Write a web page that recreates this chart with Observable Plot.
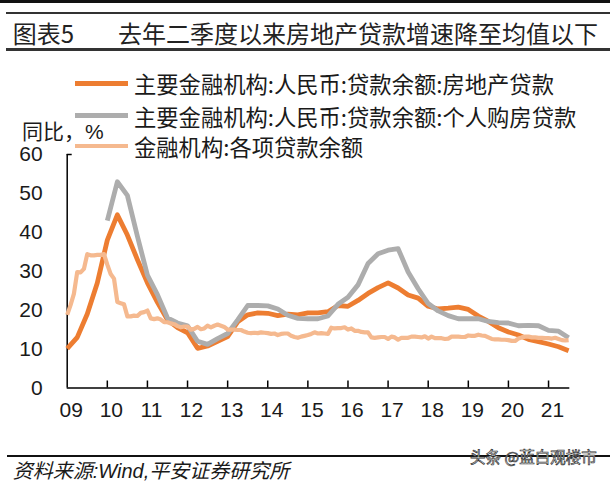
<!DOCTYPE html>
<html><head><meta charset="utf-8">
<script src="https://cdn.jsdelivr.net/npm/d3@7"></script>
<script src="https://cdn.jsdelivr.net/npm/@observablehq/plot@0.6"></script>
<style>
body{margin:0;background:#fff;}
#wrap{position:relative;width:610px;height:482px;overflow:hidden;font-family:"Liberation Sans","Noto Sans CJK SC",sans-serif;color:#1a1a1a;background:#fff}
.abs{position:absolute;white-space:nowrap}
#chart{position:absolute;left:0;top:0}
</style></head><body><div id="wrap"><div id="chart"></div></div>
<script>
// ---- texts ----
const figLabel = "图表5";
const title = "去年二季度以来房地产贷款增速降至均值以下";
const yUnit = "同比，%";
const source = "资料来源:Wind,平安证券研究所";
const watermark = "头条 @蓝白观楼市";
const seriesNames = [
  "主要金融机构:人民币:贷款余额:房地产贷款",
  "主要金融机构:人民币:贷款余额:个人购房贷款",
  "金融机构:各项贷款余额"
];
const seriesColors = ["#ED7D31", "#ADADAD", "#F5B98F"];

// ---- ticks ----
const yTicks = [0, 10, 20, 30, 40, 50, 60];
const xYears = [2009, 2010, 2011, 2012, 2013, 2014, 2015, 2016, 2017, 2018, 2019, 2020, 2021];
const xLabels = ["09","10","11","12","13","14","15","16","17","18","19","20","21"];

// ---- data (quarterly, starting 2008-12) : 房地产贷款 YoY % ----
const realEstateStart = [2008, 12];
const realEstate = [
  10.1, 13.0, 19.0, 27.0, 38.0, 44.5, 39.3, 33.0, 27.0, 22.0,
  17.5, 15.5, 14.2, 10.2, 10.8, 12.0, 13.2, 17.0, 18.8, 19.3,
  19.2, 18.6, 19.0, 18.8, 19.3, 19.3, 19.6, 21.2, 21.0, 22.5,
  24.3, 25.8, 27.0, 25.7, 23.9, 23.1, 21.0, 20.3, 20.5, 20.8,
  20.2, 18.5, 17.1, 15.5, 14.4, 13.6, 12.5, 11.9, 11.3, 10.6,
  9.6
];
// ---- data (quarterly, starting 2009-12) : 个人购房贷款 YoY % ----
const mortgageStart = [2009, 12];
const mortgage = [
  43.0, 53.0, 49.5, 39.0, 29.0, 24.0, 18.0, 16.7, 16.0, 12.0,
  11.2, 12.7, 14.0, 17.5, 21.2, 21.2, 21.1, 20.3, 18.7, 17.9,
  17.8, 17.8, 18.5, 21.5, 23.3, 26.5, 32.0, 34.5, 35.4, 35.8,
  29.8, 25.5, 21.7, 19.8, 18.6, 17.8, 17.8, 17.8, 17.1, 16.8,
  16.7, 16.0, 16.1, 16.0, 14.8, 14.6, 12.9
];
// ---- data (monthly, starting 2008-12) : 各项贷款余额 YoY % ----
const allLoansStart = [2008, 12];
const allLoans = [
  18.8,
  21.3, 24.2, 29.8, 29.7, 30.6, 34.4, 34.1, 34.1, 34.2, 34.2, 34.4, 31.7,
  29.3, 28.1, 22.1, 21.8, 21.5, 18.4, 18.4, 18.6, 18.5, 19.3, 19.5, 19.9,
  17.9, 17.7, 17.9, 17.6, 16.9, 16.9, 16.6, 16.4, 15.9, 15.6, 15.8, 15.8,
  15.0, 15.2, 15.7, 15.1, 15.3, 16.0, 15.6, 16.0, 16.3, 16.0, 15.7, 15.0,
  15.0, 15.0, 14.9, 14.9, 14.5, 14.2, 14.1, 14.2, 14.1, 14.3, 14.2, 14.1,
  13.9, 14.0, 13.6, 13.9, 14.0, 14.0, 13.4, 13.1, 12.9, 13.2, 13.4, 13.6,
  13.9, 14.3, 14.0, 14.1, 14.0, 13.9, 15.5, 15.3, 15.4, 15.4, 15.6, 15.0,
  15.3, 14.7, 14.7, 14.4, 14.3, 14.3, 13.0, 12.9, 13.0, 13.1, 13.1, 12.6,
  13.2, 13.0, 12.4, 12.9, 12.9, 12.9, 13.2, 13.2, 13.1, 13.0, 13.3, 12.7,
  13.2, 12.8, 12.8, 12.8, 12.6, 12.7, 13.2, 13.2, 13.2, 13.1, 13.1, 13.5,
  13.4, 13.4, 13.7, 13.5, 13.4, 13.0, 12.6, 12.5, 12.5, 12.4, 12.4, 12.3,
  12.1, 12.1, 12.7, 13.0, 13.2, 13.2, 13.0, 13.0, 12.9, 12.9, 12.8, 12.8,
  12.7, 12.9, 12.6, 12.3, 12.2, 12.3
];

function toRows(start, stepMonths, values) {
  return values.map((v, i) => ({t: start[0] + (start[1] + i * stepMonths) / 12, v}));
}
const rowsRE = toRows(realEstateStart, 3, realEstate);
const rowsMG = toRows(mortgageStart, 3, mortgage);
const rowsAL = toRows(allLoansStart, 1, allLoans);

const fmtYear = d => xLabels[xYears.indexOf(d)];

const chart = Plot.plot({
  width: 610, height: 482,
  marginLeft: 66.7, marginRight: 40.7, marginTop: 154, marginBottom: 94.5,
  x: {domain: [2009, 2021.53]},
  y: {domain: [0, 60]},
  style: {fontFamily: "'Liberation Sans', Arial, sans-serif", fontSize: "21px", color: "#1a1a1a", background: "transparent", overflow: "visible"},
  marks: [
    Plot.axisY({ticks: yTicks, tickSize: 0, tickPadding: 24.5, label: null, fontSize: 21, fill: "#1a1a1a"}),
    Plot.axisY({ticks: [60], tickSize: -5, text: null, label: null, stroke: "#000", strokeWidth: 1.5}),
    Plot.axisX({ticks: xYears, tickSize: 0, tickPadding: 14.5, tickFormat: fmtYear, label: null, fontSize: 21, dx: 4, fill: "#1a1a1a"}),
    Plot.axisX({ticks: xYears.slice(1), tickSize: -7, text: null, label: null, stroke: "#000", strokeWidth: 1.5}),
    Plot.ruleY([0], {stroke: "#000", strokeWidth: 1.5}),
    Plot.ruleX([2009], {stroke: "#000", strokeWidth: 1.5}),
    Plot.line(rowsRE, {x: "t", y: "v", stroke: seriesColors[0], strokeWidth: 4.8, strokeLinejoin: "round", strokeLinecap: "butt"}),
    Plot.line(rowsMG, {x: "t", y: "v", stroke: seriesColors[1], strokeWidth: 4.8, strokeLinejoin: "round", strokeLinecap: "butt"}),
    Plot.line(rowsAL, {x: "t", y: "v", stroke: seriesColors[2], strokeWidth: 4.2, strokeLinejoin: "round", strokeLinecap: "butt"})
  ]
});
document.getElementById("chart").appendChild(chart);

const wrap = document.getElementById("wrap");
function addDiv(css, text) {
  const d = document.createElement("div");
  d.className = "abs";
  d.style.cssText = css;
  if (text != null) d.textContent = text;
  wrap.appendChild(d);
  return d;
}
const cjk = "'Noto Sans CJK SC','Liberation Sans',sans-serif";
const latinFirst = "'Liberation Sans','Noto Sans CJK SC',sans-serif";
// header rules
addDiv("left:0;top:0;width:610px;height:3px;background:#111;");
addDiv("left:6px;top:11.7px;width:604px;height:2px;background:#333;");
addDiv("left:6px;top:48px;width:604px;height:2.5px;background:#333;");
// title
addDiv(`left:12.7px;top:18px;line-height:30px;font-size:24px;font-family:${cjk};color:#222;`, figLabel);
addDiv(`left:118px;top:18px;line-height:30px;font-size:24px;font-family:${cjk};color:#222;`, title);
// legend
const legendY = [83.3, 115.7, 146];
seriesNames.forEach((name, i) => {
  addDiv(`left:75px;top:${legendY[i] - 2.25}px;width:53px;height:4.5px;background:${seriesColors[i]};`);
  addDiv(`left:134px;top:${legendY[i] - 13}px;line-height:26px;font-size:22.3px;font-family:${cjk};color:#1a1a1a;`, name);
});
// unit label (baseline ~140)
addDiv(`left:22px;top:123px;line-height:18px;font-size:21px;font-family:${latinFirst};color:#1a1a1a;`, yUnit);
// source
addDiv("left:6.7px;top:455px;width:604px;height:1.5px;background:#111;");
addDiv(`left:12.7px;top:460.5px;line-height:20px;font-size:20px;font-style:italic;font-family:${latinFirst};color:#1a1a1a;padding-right:6px;`, source);
// watermark
addDiv(`left:470px;top:${456 - 11}px;line-height:22px;font-size:15.5px;font-family:${cjk};color:#fff;-webkit-text-stroke:0.7px #333;`, watermark);
</script>
</body></html>
